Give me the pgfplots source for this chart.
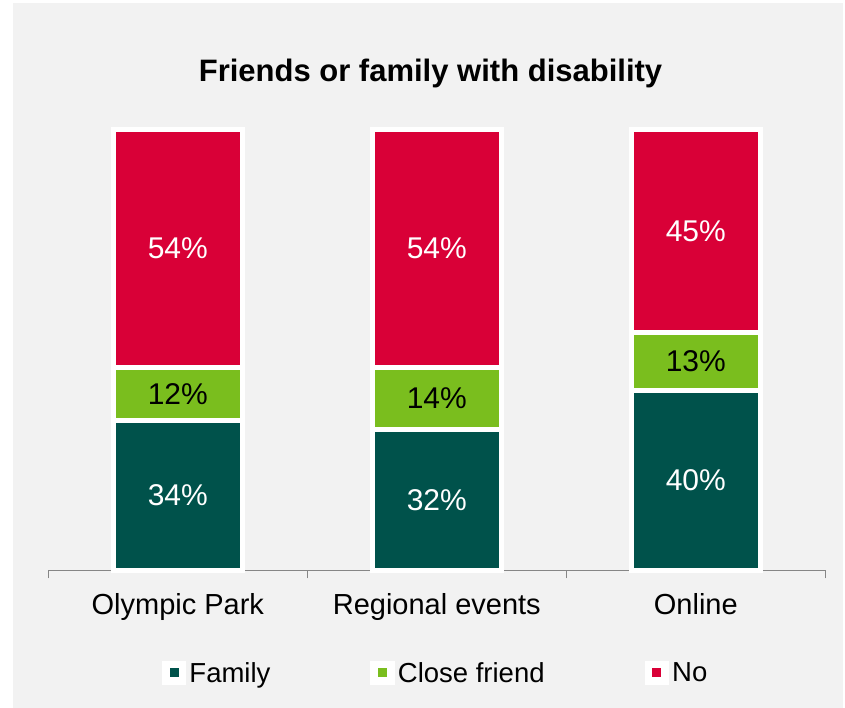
\documentclass[border=0pt]{standalone}
\usepackage{pgfplots}
\pgfplotsset{compat=1.18}
\usepackage{pgfplotstable}
\usepackage{fontspec}
\setmainfont{Liberation Sans}
\definecolor{bg}{RGB}{242,242,242}
\definecolor{famc}{RGB}{0,82,75}
\definecolor{frc}{RGB}{122,190,30}
\definecolor{noc}{RGB}{217,0,55}
\definecolor{axc}{RGB}{134,134,134}

\pgfplotstableread{
x fam famlab fr frlab no nolab
0 34 34 12 12 54 54
1 32 32 14 14 54 54
2 40.8 40 13.2 13 46 45
}\datatable

\pgfplotsset{
  sqlegend/.style={legend image code/.code={
      \fill[white] (-9.5pt,-9.5pt) rectangle (9.5pt,9.5pt);
      \path[fill,draw=none] (-4.5pt,-4.5pt) rectangle (4.5pt,4.5pt);
  }},
}

\begin{document}
\begin{tikzpicture}
\useasboundingbox (0pt,0pt) rectangle (845pt,708pt);
\fill[white] (0pt,0pt) rectangle (845pt,708pt);
\fill[bg] (13pt,0pt) rectangle (843pt,705pt);
\node[anchor=base, font=\fontsize{31}{36}\selectfont\bfseries] at (430.5pt,626pt) {Friends or family with disability};
\begin{axis}[
  at={(48.3pt,137.5pt)}, anchor=south west,
  scale only axis, width=777pt, height=441pt,
  xmin=-0.5, xmax=2.5, ymin=0, ymax=100,
  ybar stacked, bar width=129pt,
  axis y line=none, axis x line=bottom,
  x axis line style={axc, line width=1.5pt, -},
  xtick={0,1,2}, xticklabels={Olympic Park, Regional events, Online},
  major tick length=0pt,
  minor xtick={-0.5,0.5,1.5,2.5}, minor tick length=8pt, tick align=outside,
  minor tick style={axc, line width=1.5pt},
  xticklabel style={font=\fontsize{29}{34}\selectfont, yshift=-19pt},
  clip=false,
  point meta=explicit symbolic,
  nodes near coords={\pgfplotspointmeta\%},
  every node near coord/.append style={anchor=center, font=\fontsize{30}{36}\selectfont},
  legend columns=3,
  legend style={draw=none, fill=none, at={(axis description cs:0.4985,-0.2324)}, anchor=center,
    font=\fontsize{27.5}{33}\selectfont,
    /tikz/every odd column/.append style={column sep=1pt},
    /tikz/every even column/.append style={column sep=98pt}},
]
\addplot[fill=famc, draw=white, line width=5.5pt, sqlegend, every node near coord/.append style={text=white}] table[x=x,y=fam,meta=famlab]{\datatable};
\addplot[fill=frc, draw=white, line width=5.5pt, sqlegend, every node near coord/.append style={text=black}] table[x=x,y=fr,meta=frlab]{\datatable};
\addplot[fill=noc, draw=white, line width=5.5pt, sqlegend, every node near coord/.append style={text=white}] table[x=x,y=no,meta=nolab]{\datatable};
\legend{Family, Close friend, No}
\end{axis}
\end{tikzpicture}
\end{document}
